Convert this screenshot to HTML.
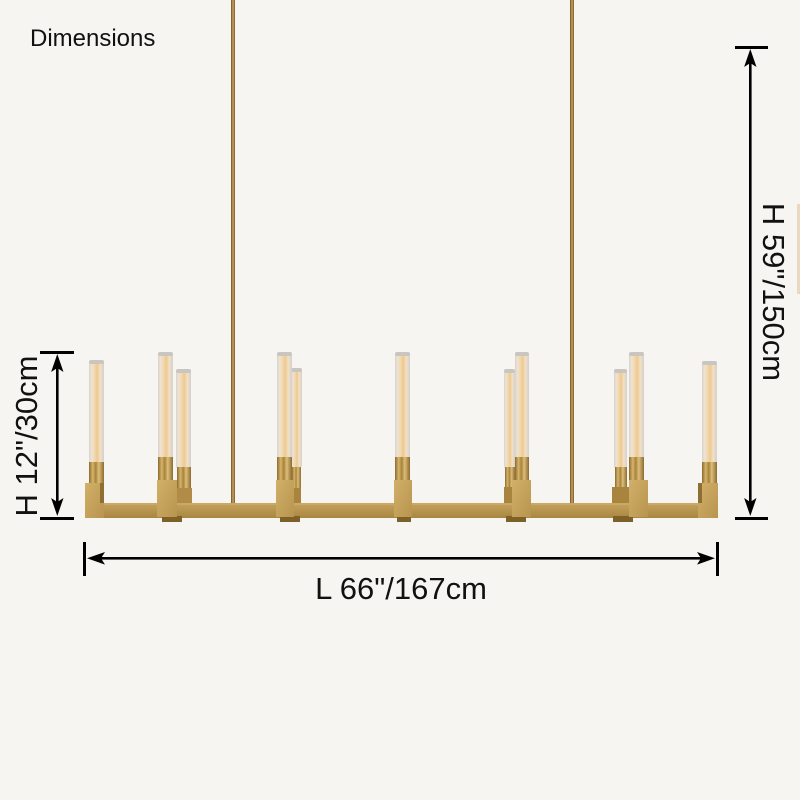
<!DOCTYPE html>
<html>
<head>
<meta charset="utf-8">
<style>
  html,body{margin:0;padding:0;background:#f6f5f1;}
  svg{display:block;}
  text{font-family:"Liberation Sans",Arial,sans-serif;fill:#111;}
</style>
</head>
<body>
<svg width="800" height="800" viewBox="0 0 800 800" xmlns="http://www.w3.org/2000/svg">
  <defs>
    <linearGradient id="glass" x1="0" y1="0" x2="1" y2="0">
      <stop offset="0" stop-color="#d9d3cb"/>
      <stop offset="0.18" stop-color="#ede3d4"/>
      <stop offset="0.4" stop-color="#f2d6a8"/>
      <stop offset="0.55" stop-color="#efc98e"/>
      <stop offset="0.75" stop-color="#f0e0c8"/>
      <stop offset="1" stop-color="#d6d0c8"/>
    </linearGradient>
    <linearGradient id="sock" x1="0" y1="0" x2="1" y2="0">
      <stop offset="0" stop-color="#8c6a2e"/>
      <stop offset="0.25" stop-color="#d6b46c"/>
      <stop offset="0.45" stop-color="#a8843c"/>
      <stop offset="0.65" stop-color="#dcbd78"/>
      <stop offset="1" stop-color="#8e6c30"/>
    </linearGradient>
    <linearGradient id="blk" x1="0" y1="0" x2="1" y2="1">
      <stop offset="0" stop-color="#d2b06a"/>
      <stop offset="1" stop-color="#b8944e"/>
    </linearGradient>
    <linearGradient id="bar" x1="0" y1="0" x2="0" y2="1">
      <stop offset="0" stop-color="#c4a25e"/>
      <stop offset="0.5" stop-color="#b8954f"/>
      <stop offset="1" stop-color="#a8863f"/>
    </linearGradient>
    <linearGradient id="rod" x1="0" y1="0" x2="1" y2="0">
      <stop offset="0" stop-color="#6e5020"/>
      <stop offset="0.5" stop-color="#c8a460"/>
      <stop offset="1" stop-color="#7a5a26"/>
    </linearGradient>
  </defs>

  <rect width="800" height="800" fill="#f6f5f1"/>

  <!-- partial item at right edge -->
  <rect x="797" y="204" width="3" height="90" fill="#ead8c0"/>

  <!-- rods -->
  <rect x="231" y="0" width="4" height="504" fill="url(#rod)"/>
  <rect x="570" y="0" width="4" height="504" fill="url(#rod)"/>

  <!-- rear bulbs -->
  <g>
    <!-- L2 rear -->
    <rect x="176" y="369" width="15" height="100" rx="3" fill="url(#glass)"/>
    <rect x="176" y="369" width="15" height="4" rx="2" fill="#c9c5c0"/>
    <rect x="177" y="467" width="14" height="21" fill="url(#sock)"/>
    <rect x="177" y="488" width="15" height="15" fill="#b08c48"/>
    <!-- L3 rear -->
    <rect x="291" y="368" width="11" height="100" rx="3" fill="url(#glass)"/>
    <rect x="291" y="368" width="11" height="4" rx="2" fill="#c9c5c0"/>
    <rect x="292" y="467" width="9" height="21" fill="url(#sock)"/>
    <rect x="293" y="488" width="8" height="15" fill="#a8843f"/>
    <!-- R3 rear -->
    <rect x="504" y="369" width="11" height="100" rx="3" fill="url(#glass)"/>
    <rect x="504" y="369" width="11" height="4" rx="2" fill="#c9c5c0"/>
    <rect x="505" y="467" width="10" height="21" fill="url(#sock)"/>
    <rect x="504" y="487" width="10" height="16" fill="#a8843f"/>
    <!-- R2 rear -->
    <rect x="614" y="369" width="13" height="100" rx="3" fill="url(#glass)"/>
    <rect x="614" y="369" width="13" height="4" rx="2" fill="#c9c5c0"/>
    <rect x="615" y="467" width="12" height="21" fill="url(#sock)"/>
    <rect x="612" y="487" width="18" height="16" fill="#a8843f"/>
  </g>

  <!-- main bar -->
  <rect x="85" y="503" width="633" height="15" fill="url(#bar)"/>
  <rect x="85" y="503" width="633" height="2" fill="#c9a964"/>

  <!-- rear block bottoms/shadows -->
  <rect x="162" y="516" width="20" height="6" fill="#7e6128"/>
  <rect x="280" y="516" width="20" height="6" fill="#7e6128"/>
  <rect x="397" y="516" width="14" height="6" fill="#7e6128"/>
  <rect x="506" y="516" width="20" height="6" fill="#7e6128"/>
  <rect x="613" y="516" width="20" height="6" fill="#7e6128"/>

  <!-- front bulbs -->
  <g>
    <!-- L1 -->
    <rect x="89" y="360" width="15" height="104" rx="3" fill="url(#glass)"/>
    <rect x="89" y="360" width="15" height="4" rx="2" fill="#c9c5c0"/>
    <rect x="89" y="462" width="15" height="21" fill="url(#sock)"/>
    <rect x="85" y="483" width="19" height="35" fill="url(#blk)"/>
    <rect x="100" y="483" width="4" height="20" fill="#8e6e32"/>
    <!-- L2 front -->
    <rect x="158" y="352" width="15" height="107" rx="3" fill="url(#glass)"/>
    <rect x="158" y="352" width="15" height="4" rx="2" fill="#c9c5c0"/>
    <rect x="158" y="457" width="15" height="23" fill="url(#sock)"/>
    <rect x="157" y="480" width="20" height="37" fill="url(#blk)"/>
    <!-- L3 front -->
    <rect x="277" y="352" width="15" height="107" rx="3" fill="url(#glass)"/>
    <rect x="277" y="352" width="15" height="4" rx="2" fill="#c9c5c0"/>
    <rect x="277" y="457" width="15" height="23" fill="url(#sock)"/>
    <rect x="276" y="480" width="18" height="37" fill="url(#blk)"/>
    <!-- Center -->
    <rect x="395" y="352" width="15" height="107" rx="3" fill="url(#glass)"/>
    <rect x="395" y="352" width="15" height="4" rx="2" fill="#c9c5c0"/>
    <rect x="395" y="457" width="15" height="23" fill="url(#sock)"/>
    <rect x="394" y="480" width="18" height="37" fill="url(#blk)"/>
    <!-- R3 front -->
    <rect x="515" y="352" width="14" height="107" rx="3" fill="url(#glass)"/>
    <rect x="515" y="352" width="14" height="4" rx="2" fill="#c9c5c0"/>
    <rect x="515" y="457" width="14" height="23" fill="url(#sock)"/>
    <rect x="512" y="480" width="19" height="37" fill="url(#blk)"/>
    <!-- R2 front -->
    <rect x="629" y="352" width="15" height="107" rx="3" fill="url(#glass)"/>
    <rect x="629" y="352" width="15" height="4" rx="2" fill="#c9c5c0"/>
    <rect x="629" y="457" width="15" height="23" fill="url(#sock)"/>
    <rect x="629" y="480" width="19" height="37" fill="url(#blk)"/>
    <!-- R1 -->
    <rect x="702" y="361" width="15" height="103" rx="3" fill="url(#glass)"/>
    <rect x="702" y="361" width="15" height="4" rx="2" fill="#c9c5c0"/>
    <rect x="702" y="462" width="15" height="21" fill="url(#sock)"/>
    <rect x="698" y="483" width="20" height="35" fill="url(#blk)"/>
    <rect x="698" y="483" width="4" height="20" fill="#8e6e32"/>
  </g>

  <!-- Dimensions label -->
  <text x="30" y="46" font-size="24">Dimensions</text>

  <!-- Right vertical dimension -->
  <rect x="735" y="46" width="33" height="3" fill="#000"/>
  <rect x="735" y="517" width="33" height="3" fill="#000"/>
  <rect x="749" y="60" width="2.6" height="445" fill="#000"/>
  <path d="M750.3,49 L756.5,67 L750.3,63 L744.1,67 Z" fill="#000"/>
  <path d="M750.3,516 L756.5,498 L750.3,502 L744.1,498 Z" fill="#000"/>
  <text transform="translate(763,292) rotate(90)" font-size="31" text-anchor="middle">H 59"/150cm</text>

  <!-- Left vertical dimension -->
  <rect x="40" y="351" width="34" height="3" fill="#000"/>
  <rect x="40" y="517" width="34" height="3" fill="#000"/>
  <rect x="56" y="365" width="2.6" height="140" fill="#000"/>
  <path d="M57.3,354 L63.5,372 L57.3,368 L51.1,372 Z" fill="#000"/>
  <path d="M57.3,516 L63.5,498 L57.3,502 L51.1,498 Z" fill="#000"/>
  <text transform="translate(37,436) rotate(-90)" font-size="31" text-anchor="middle">H 12"/30cm</text>

  <!-- Horizontal dimension -->
  <rect x="83" y="542" width="3" height="34" fill="#000"/>
  <rect x="716" y="542" width="3" height="34" fill="#000"/>
  <rect x="98" y="557" width="606" height="2.6" fill="#000"/>
  <path d="M87,558.3 L105,552 L101,558.3 L105,564.6 Z" fill="#000"/>
  <path d="M715,558.3 L697,552 L701,558.3 L697,564.6 Z" fill="#000"/>
  <text x="401" y="599" font-size="31" text-anchor="middle">L 66"/167cm</text>
</svg>
</body>
</html>
